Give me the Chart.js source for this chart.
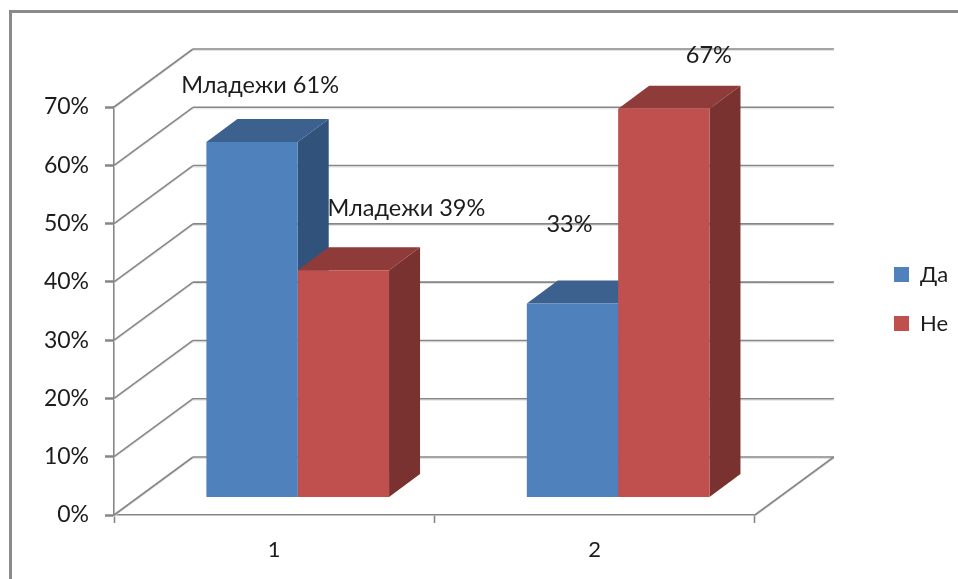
<!DOCTYPE html>
<html>
<head>
<meta charset="utf-8">
<title>Chart</title>
<script src="https://cdn.jsdelivr.net/npm/chart.js@4"></script>
<style>
    html, body { margin: 0; padding: 0; background: #fff; }
    canvas { display: block; }
</style>
</head>
<body>
<canvas id="js--chart" width="958" height="579"></canvas>
<script>
const categories = ["1", "2"];
const seriesNames = ["Да", "Не"];
const daValues = [61, 33.3];
const neValues = [39, 66.7];
const daLabels = ["Младежи 61%", "33%"];
const neLabels = ["Младежи 39%", "67%"];
const yTicks = [0, 10, 20, 30, 40, 50, 60, 70];

const lineColor = "#868686";
const textColor = "#1c1c1c";
const fontName = "Lato, 'Open Sans', sans-serif";

// the 3d look: wall depth, where the bars stand on the floor, how deep a bar is
const wallDepth = { x: 79, y: -58 };
const barShift = { x: 23.5, y: -17.5 };
const barDepth = { x: 31, y: -23 };

// data labels were dragged by hand in the original, so each has its own nudge
const daNudge = [[8, -57], [-3, -79]];
const neNudge = [[63, -62], [45, -53]];

function drawLine(ctx, x1, y1, x2, y2) {
    ctx.strokeStyle = "#e2e2e2";
    ctx.lineWidth = 1;
    ctx.beginPath();
    ctx.moveTo(x1, y1 + 1.5);
    ctx.lineTo(x2, y2 + 1.5);
    ctx.stroke();
    ctx.strokeStyle = lineColor;
    ctx.lineWidth = 1.6;
    ctx.beginPath();
    ctx.moveTo(x1, y1);
    ctx.lineTo(x2, y2);
    ctx.stroke();
}

function drawFace(ctx, color, points) {
    ctx.fillStyle = color;
    ctx.beginPath();
    ctx.moveTo(points[0][0], points[0][1]);
    for (let i = 1; i < points.length; i++) {
        ctx.lineTo(points[i][0], points[i][1]);
    }
    ctx.closePath();
    ctx.fill();
}

const depthPlugin = {
    id: "depth",
    afterLayout: function(chart) {
        // legend sits far from the plot, past the back wall
        chart.legend.left = 867;
        chart.legend.right = 958;
        chart.legend.top = chart.legend.top - 44;
        chart.legend.bottom = chart.legend.bottom - 44;
    },
    beforeDraw: function(chart) {
        const ctx = chart.ctx;
        ctx.fillStyle = "#8a8a8a";
        ctx.fillRect(9, 10, 949, 3);
        ctx.fillRect(9, 10, 3, 569);
    },
    beforeDatasetsDraw: function(chart) {
        const ctx = chart.ctx;
        const area = chart.chartArea;
        const y = chart.scales.y;

        yTicks.forEach(function(tick) {
            const py = y.getPixelForValue(tick);
            drawLine(ctx, area.left, py, area.left + wallDepth.x, py + wallDepth.y);
            drawLine(ctx, area.left + wallDepth.x, py + wallDepth.y, area.right + wallDepth.x, py + wallDepth.y);
        });
        drawLine(ctx, area.right, area.bottom, area.right + wallDepth.x, area.bottom + wallDepth.y);

        ctx.save();
        ctx.translate(barShift.x, barShift.y);
        const sideColors = ["#31527b", "#7a3230"];
        const topColors = ["#3d618f", "#8e3b39"];
        categories.forEach(function(cat, c) {
            [0, 1].forEach(function(d) {
                const bar = chart.getDatasetMeta(d).data[c];
                const left = bar.x - bar.width / 2;
                const right = bar.x + bar.width / 2;
                drawFace(ctx, sideColors[d], [
                    [right, bar.y], [right + barDepth.x, bar.y + barDepth.y],
                    [right + barDepth.x, bar.base + barDepth.y], [right, bar.base]
                ]);
                drawFace(ctx, topColors[d], [
                    [left, bar.y], [left + barDepth.x, bar.y + barDepth.y],
                    [right + barDepth.x, bar.y + barDepth.y], [right, bar.y]
                ]);
            });
        });
    },
    afterDatasetsDraw: function(chart) {
        const ctx = chart.ctx;
        ctx.restore();

        ctx.fillStyle = textColor;
        ctx.font = "23.5px " + fontName;
        ctx.textAlign = "center";
        ctx.textBaseline = "middle";
        [[daLabels, daNudge], [neLabels, neNudge]].forEach(function(set, d) {
            chart.getDatasetMeta(d).data.forEach(function(bar, c) {
                ctx.fillText(set[0][c],
                    bar.x + barShift.x + set[1][c][0],
                    bar.y + barShift.y + set[1][c][1]);
            });
        });
    }
};

const data = {
    labels: categories,
    datasets: [
        { label: seriesNames[0], data: daValues, backgroundColor: "#4f81bd" },
        { label: seriesNames[1], data: neValues, backgroundColor: "#c0504d" }
    ]
};

const config = {
    type: "bar",
    data: data,
    plugins: [depthPlugin],
    options: {
        responsive: false,
        animation: false,
        events: [],
        layout: { padding: { top: 107, left: 0, right: 112, bottom: 0 } },
        categoryPercentage: 0.57,
        barPercentage: 1,
        scales: {
            x: {
                afterFit: function(scale) { scale.height = 64; },
                border: { color: lineColor, width: 1.6 },
                grid: { drawOnChartArea: false, color: lineColor, tickLength: 8, tickWidth: 1.6 },
                ticks: { color: textColor, font: { family: fontName, size: 22 }, padding: 14 }
            },
            y: {
                min: 0,
                max: 70,
                afterFit: function(scale) { scale.width = 114; },
                afterBuildTicks: function(scale) {
                    scale.ticks = yTicks.map(function(v) { return { value: v }; });
                },
                border: { color: lineColor, width: 1.6 },
                grid: { drawOnChartArea: false, color: lineColor, tickLength: 9, tickWidth: 2.5 },
                ticks: {
                    color: textColor,
                    font: { family: fontName, size: 23 },
                    padding: 16,
                    callback: function(value) { return value + "%"; }
                }
            }
        },
        plugins: {
            tooltip: { enabled: false },
            legend: {
                position: "right",
                labels: {
                    boxWidth: 15,
                    boxHeight: 15,
                    padding: 27,
                    color: textColor,
                    font: { family: fontName, size: 22 }
                }
            }
        }
    }
};

const chart1 = new Chart(document.getElementById("js--chart"), config);
</script>
</body>
</html>
